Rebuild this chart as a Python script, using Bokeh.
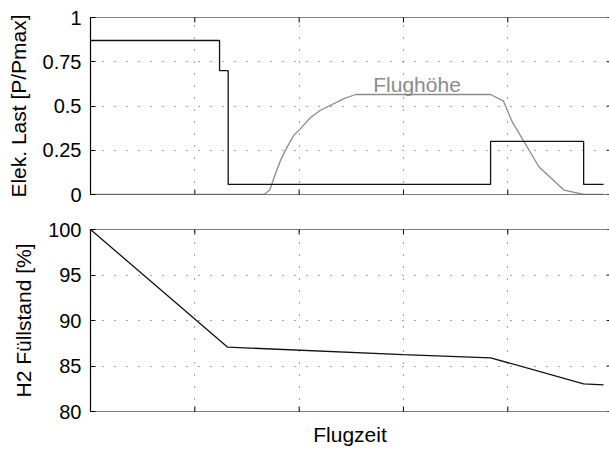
import math
from bokeh.plotting import figure
from bokeh.layouts import column
from bokeh.models import FixedTicker, Label, Range1d, Span, Title
from bokeh.embed import file_html
from bokeh.resources import INLINE

# ---------------- data ----------------
x_ticks = [0, 1, 2, 3, 4, 5]

last_x = [0, 1.237, 1.320, 3.835, 4.727, 4.918]
last_y = [0.87, 0.70, 0.057, 0.30, 0.057, 0.057]

hoehe_x = [0, 1.662, 1.719, 1.774, 1.822, 1.886, 1.949, 2.013, 2.109, 2.205,
           2.429, 2.541, 3.835, 3.957, 4.043, 4.298, 4.538, 4.730, 4.916]
hoehe_y = [0, 0, 0.025, 0.119, 0.194, 0.269, 0.335, 0.372, 0.435, 0.476,
           0.542, 0.565, 0.565, 0.529, 0.410, 0.157, 0.025, 0, 0]

h2_x = [0, 1.315, 2.998, 3.835, 4.727, 4.918]
h2_y = [100, 87.07, 86.26, 85.9, 83.04, 82.93]

top_ticks = [0, 0.25, 0.5, 0.75, 1]
top_tick_labels = ["0", "0.25", "0.5", "0.75", "1"]
bot_ticks = [80, 85, 90, 95, 100]
bot_tick_labels = ["80", "85", "90", "95", "100"]

FONT = "Liberation Sans"
GRID_DASH = "1 11"


def style(p, yticks, ylabels, ylabel, ymin, ymax):
    p.outline_line_color = None
    p.xaxis.visible = False
    p.yaxis.ticker = FixedTicker(ticks=yticks)
    p.yaxis.major_label_overrides = dict(zip(yticks, ylabels))
    p.xgrid.ticker = FixedTicker(ticks=x_ticks)
    p.ygrid.ticker = FixedTicker(ticks=yticks)
    for g in (p.xgrid, p.ygrid):
        g.grid_line_color = "#333333"
        g.grid_line_dash = GRID_DASH
        g.grid_line_width = 1
        g.grid_line_alpha = 0.9
    ax = p.yaxis[0]
    ax.major_tick_in = 5
    ax.major_tick_out = 0
    ax.minor_tick_line_color = None
    ax.axis_line_color = "black"
    ax.major_tick_line_color = "black"
    ax.axis_line_width = 1.2
    ax.major_label_text_font = FONT
    ax.major_label_text_font_size = "20px"
    ax.major_label_text_color = "black"
    ax.major_label_standoff = 9
    ax.axis_label = ylabel
    ax.axis_label_standoff = 10
    ax.axis_label_text_font = FONT
    ax.axis_label_text_font_size = "21px"
    ax.axis_label_text_font_style = "normal"
    ax.axis_label_text_color = "black"
    # frame edges (top / bottom)
    for loc in (ymin, ymax):
        p.add_layout(Span(location=loc, dimension="width",
                          line_color="black", line_width=1.2))
    # inward x ticks at top and bottom edges (clipped to the frame)
    for loc in (ymin, ymax):
        p.scatter(x_ticks, [loc] * len(x_ticks), marker="dash", size=10,
                  angle=math.pi / 2, line_color="black", line_width=1)
    # inward y ticks on the (cut-off) right edge at x = 5
    p.scatter([x_ticks[-1]] * len(yticks), yticks, marker="dash", size=10,
              line_color="black", line_width=1)


top = figure(frame_width=519, frame_height=177,
             x_range=Range1d(0, 4.975), y_range=Range1d(0, 1),
             output_backend="svg", toolbar_location=None,
             min_border_left=90, min_border_right=0,
             min_border_top=17, min_border_bottom=17)
style(top, top_ticks, top_tick_labels, "Elek. Last [P/Pmax]", 0, 1)
top.line(hoehe_x, hoehe_y, line_color="#8c8c8c", line_width=1.3)
top.step(last_x, last_y, mode="after", line_color="#111111", line_width=1.3)
top.add_layout(Label(x=3.13, y=0.622, text="Flughöhe", text_align="center",
                     text_baseline="middle", text_font=FONT,
                     text_font_size="21px", text_color="#8c8c8c"))

bot = figure(frame_width=519, frame_height=182,
             x_range=Range1d(0, 4.975), y_range=Range1d(80, 100),
             output_backend="svg", toolbar_location=None,
             min_border_left=90, min_border_right=0,
             min_border_top=18, min_border_bottom=40)
style(bot, bot_ticks, bot_tick_labels, "H2 Füllstand [%]", 80, 100)
bot.line(h2_x, h2_y, line_color="#111111", line_width=1.3)
bot.add_layout(Title(text="Flugzeit", align="center", text_font=FONT,
                     text_font_size="21px", text_font_style="normal",
                     text_color="black", standoff=18), "below")

layout = column(top, bot, spacing=0)
open("out.html", "w").write(file_html(layout, INLINE))
